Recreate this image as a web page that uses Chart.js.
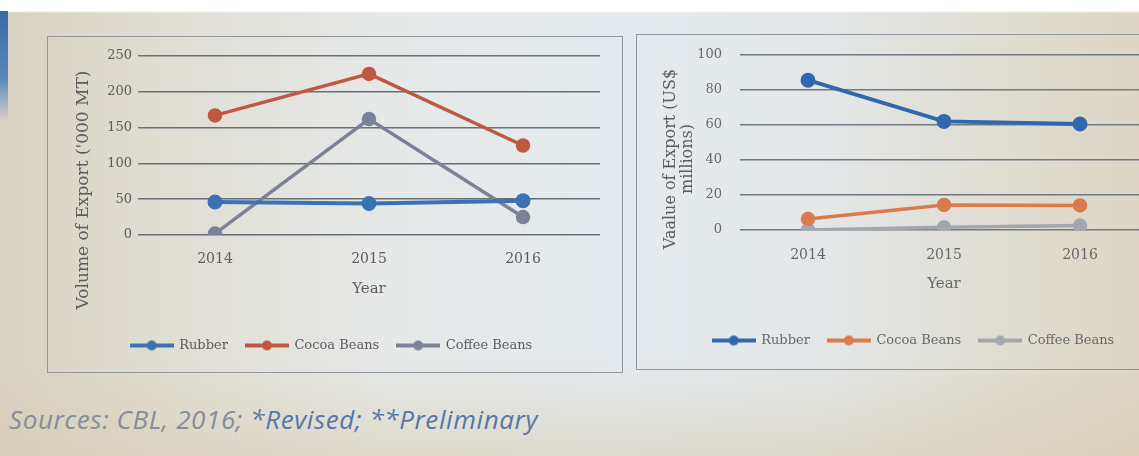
<!DOCTYPE html>
<html>
<head>
<meta charset="utf-8">
<script src="https://cdn.jsdelivr.net/npm/chart.js@4.4.1/dist/chart.umd.min.js"></script>
<style>
  html, body { margin: 0; padding: 0; }
  body {
    width: 1139px; height: 456px; overflow: hidden; position: relative;
    background:
      linear-gradient(to bottom, #ffffff 0, #ffffff 11px, rgba(255,255,255,0) 13px, rgba(255,255,255,0) 360px, rgba(214,200,170,0.45) 456px),
      linear-gradient(to right, #d9d2c3 0%, #e0ddd3 14%, #e6e9e8 34%, #e4eaee 55%, #e3e7e8 72%, #e0ddd2 88%, #ddd6c5 100%);
  }
  .edge { position: absolute; left: 0; top: 11px; width: 8px; height: 110px;
    background: linear-gradient(to bottom, #3a6aa6 0%, #5a86ba 60%, rgba(120,150,190,0) 100%); }
  .panel { position: absolute; border: 1.5px solid #9097a0; box-sizing: border-box; }
  .wrap { position: absolute; }
  .source { position: absolute; left: 9px; top: 401px; font: italic 26px "Open Sans", "Noto Sans", sans-serif;
    white-space: nowrap; letter-spacing: 0.6px; }
  .source .a { color: #848d9c; }
  .source .b { color: #5877a6; }
</style>
</head>
<body>
<div class="edge"></div>
<div class="panel" style="left:47px; top:36px; width:576px; height:337px;"></div>
<div class="panel" style="left:636px; top:34px; width:520px; height:336px;"></div>

<div class="wrap" style="left:41px; top:35px;"><canvas id="volumeChart" width="581" height="327"></canvas></div>
<div class="wrap" style="left:635px; top:29px;"><canvas id="valueChart" width="530" height="328"></canvas></div>

<div class="source"><span class="a">Sources: CBL, 2016; </span><span class="b">*Revised; **Preliminary</span></div>

<script>
// Categories and series
const years = ['2014', '2015', '2016'];
const seriesNames = ['Rubber', 'Cocoa Beans', 'Coffee Beans'];

// Volume of export ('000 MT)
const volumeRubber = [46, 44, 48];
const volumeCocoa  = [167, 225, 125];
const volumeCoffee = [2, 162, 25];
const volumeTicks  = [0, 50, 100, 150, 200, 250];

// Value of export (US$ millions)
const valueRubber = [85.5, 62, 60.5];
const valueCocoa  = [6.3, 14.3, 14];
const valueCoffee = [0, 1.5, 2.5];
const valueTicks  = [0, 20, 40, 60, 80, 100];

const SERIF = '"DejaVu Serif", "Liberation Serif", serif';

// Line-with-dot swatch used in the legends
function legendMark(color) {
  const c = document.createElement('canvas');
  c.width = 44; c.height = 12;
  const g = c.getContext('2d');
  g.strokeStyle = color; g.lineWidth = 4;
  g.beginPath(); g.moveTo(0, 6); g.lineTo(44, 6); g.stroke();
  g.fillStyle = color;
  g.beginPath(); g.arc(22, 6, 5, 0, Math.PI * 2); g.fill();
  return c;
}

// Rotated axis title drawn beside the value axis
const sideTitle = {
  id: 'sideTitle',
  afterDraw(chart, args, opts) {
    const ctx = chart.ctx;
    ctx.save();
    ctx.font = opts.fontSpec;
    ctx.fillStyle = opts.color;
    ctx.textAlign = 'center';
    ctx.textBaseline = 'middle';
    ctx.translate(opts.x, opts.y);
    ctx.rotate(-Math.PI / 2);
    const n = opts.lines.length;
    opts.lines.forEach((t, i) => ctx.fillText(t, 0, (i - (n - 1) / 2) * opts.lineGap));
    ctx.restore();
  }
};

function dataset(label, data, color, width, radius) {
  return {
    label, data,
    borderColor: color, backgroundColor: color,
    pointBackgroundColor: color, pointBorderColor: color,
    borderWidth: width, pointRadius: radius, pointHoverRadius: radius,
    tension: 0, fill: false
  };
}

function buildChart(id, cfg) {
  const tickFont = { family: SERIF, size: 13 };
  return new Chart(document.getElementById(id), {
    type: 'line',
    data: {
      labels: years,
      datasets: [
        dataset(seriesNames[0], cfg.series[0], cfg.colors[0], 4, 5.5),
        dataset(seriesNames[1], cfg.series[1], cfg.colors[1], 3.5, 5.5),
        dataset(seriesNames[2], cfg.series[2], cfg.colors[2], 3.5, 5.5)
      ]
    },
    options: {
      responsive: false,
      animation: false,
      layout: { padding: cfg.padding },
      scales: {
        x: {
          offset: true,
          grid: { display: false, drawTicks: false },
          border: { display: false },
          ticks: { padding: cfg.xTickPad, color: cfg.text, font: { family: SERIF, size: 14 } },
          title: { display: true, text: 'Year', color: cfg.text,
                   font: { family: SERIF, size: 15 }, padding: { top: 0, bottom: 23 } },
          afterFit(s) { s.height = cfg.xHeight; }
        },
        y: {
          min: cfg.ticks[0],
          max: cfg.ticks[cfg.ticks.length - 1],
          afterBuildTicks(s) { s.ticks = cfg.ticks.map(v => ({ value: v })); },
          grid: { color: cfg.grid, lineWidth: 1.6, drawTicks: false },
          border: { display: false },
          ticks: { padding: cfg.yTickPad, color: cfg.text, font: tickFont },
          afterFit(s) { s.width = cfg.yWidth; }
        }
      },
      plugins: {
        tooltip: { enabled: false },
        legend: {
          position: 'bottom',
          labels: {
            usePointStyle: true,
            pointStyleWidth: 42,
            padding: 18,
            color: cfg.text,
            font: { family: SERIF, size: 13 },
            generateLabels(chart) {
              return chart.data.datasets.map((ds, i) => ({
                text: ds.label,
                pointStyle: legendMark(ds.borderColor),
                fillStyle: ds.borderColor,
                strokeStyle: ds.borderColor,
                lineWidth: 0,
                fontColor: cfg.text,
                hidden: false,
                datasetIndex: i
              }));
            }
          }
        },
        sideTitle: cfg.sideTitle
      }
    },
    plugins: [sideTitle]
  });
}

buildChart('volumeChart', {
  series: [volumeRubber, volumeCocoa, volumeCoffee],
  colors: ['#3a72b2', '#bf5841', '#7c8296'],
  ticks: volumeTicks,
  text: '#5c5c5e',
  grid: '#66707c',
  padding: { left: 22, right: 22, top: 21, bottom: 0 },
  yWidth: 75,
  yTickPad: 6,
  xHeight: 86,
  xTickPad: 16,
  sideTitle: { lines: ["Volume of Export ('000 MT)"], x: 43, y: 155, lineGap: 17,
               fontSpec: '17px ' + SERIF, color: '#5c5c5e' }
});

buildChart('valueChart', {
  series: [valueRubber, valueCocoa, valueCoffee],
  colors: ['#2f68ad', '#d97c4c', '#a3a6ae'],
  ticks: valueTicks,
  text: '#67686b',
  grid: '#727986',
  padding: { left: 44, right: 17, top: 25, bottom: 0 },
  yWidth: 61,
  yTickPad: 18,
  xHeight: 86,
  xTickPad: 17,
  sideTitle: { lines: ['Vaalue of Export (US$', 'millions)'], x: 44, y: 130, lineGap: 17,
               fontSpec: '16px ' + SERIF, color: '#5c5c5e' }
});
</script>
</body>
</html>
